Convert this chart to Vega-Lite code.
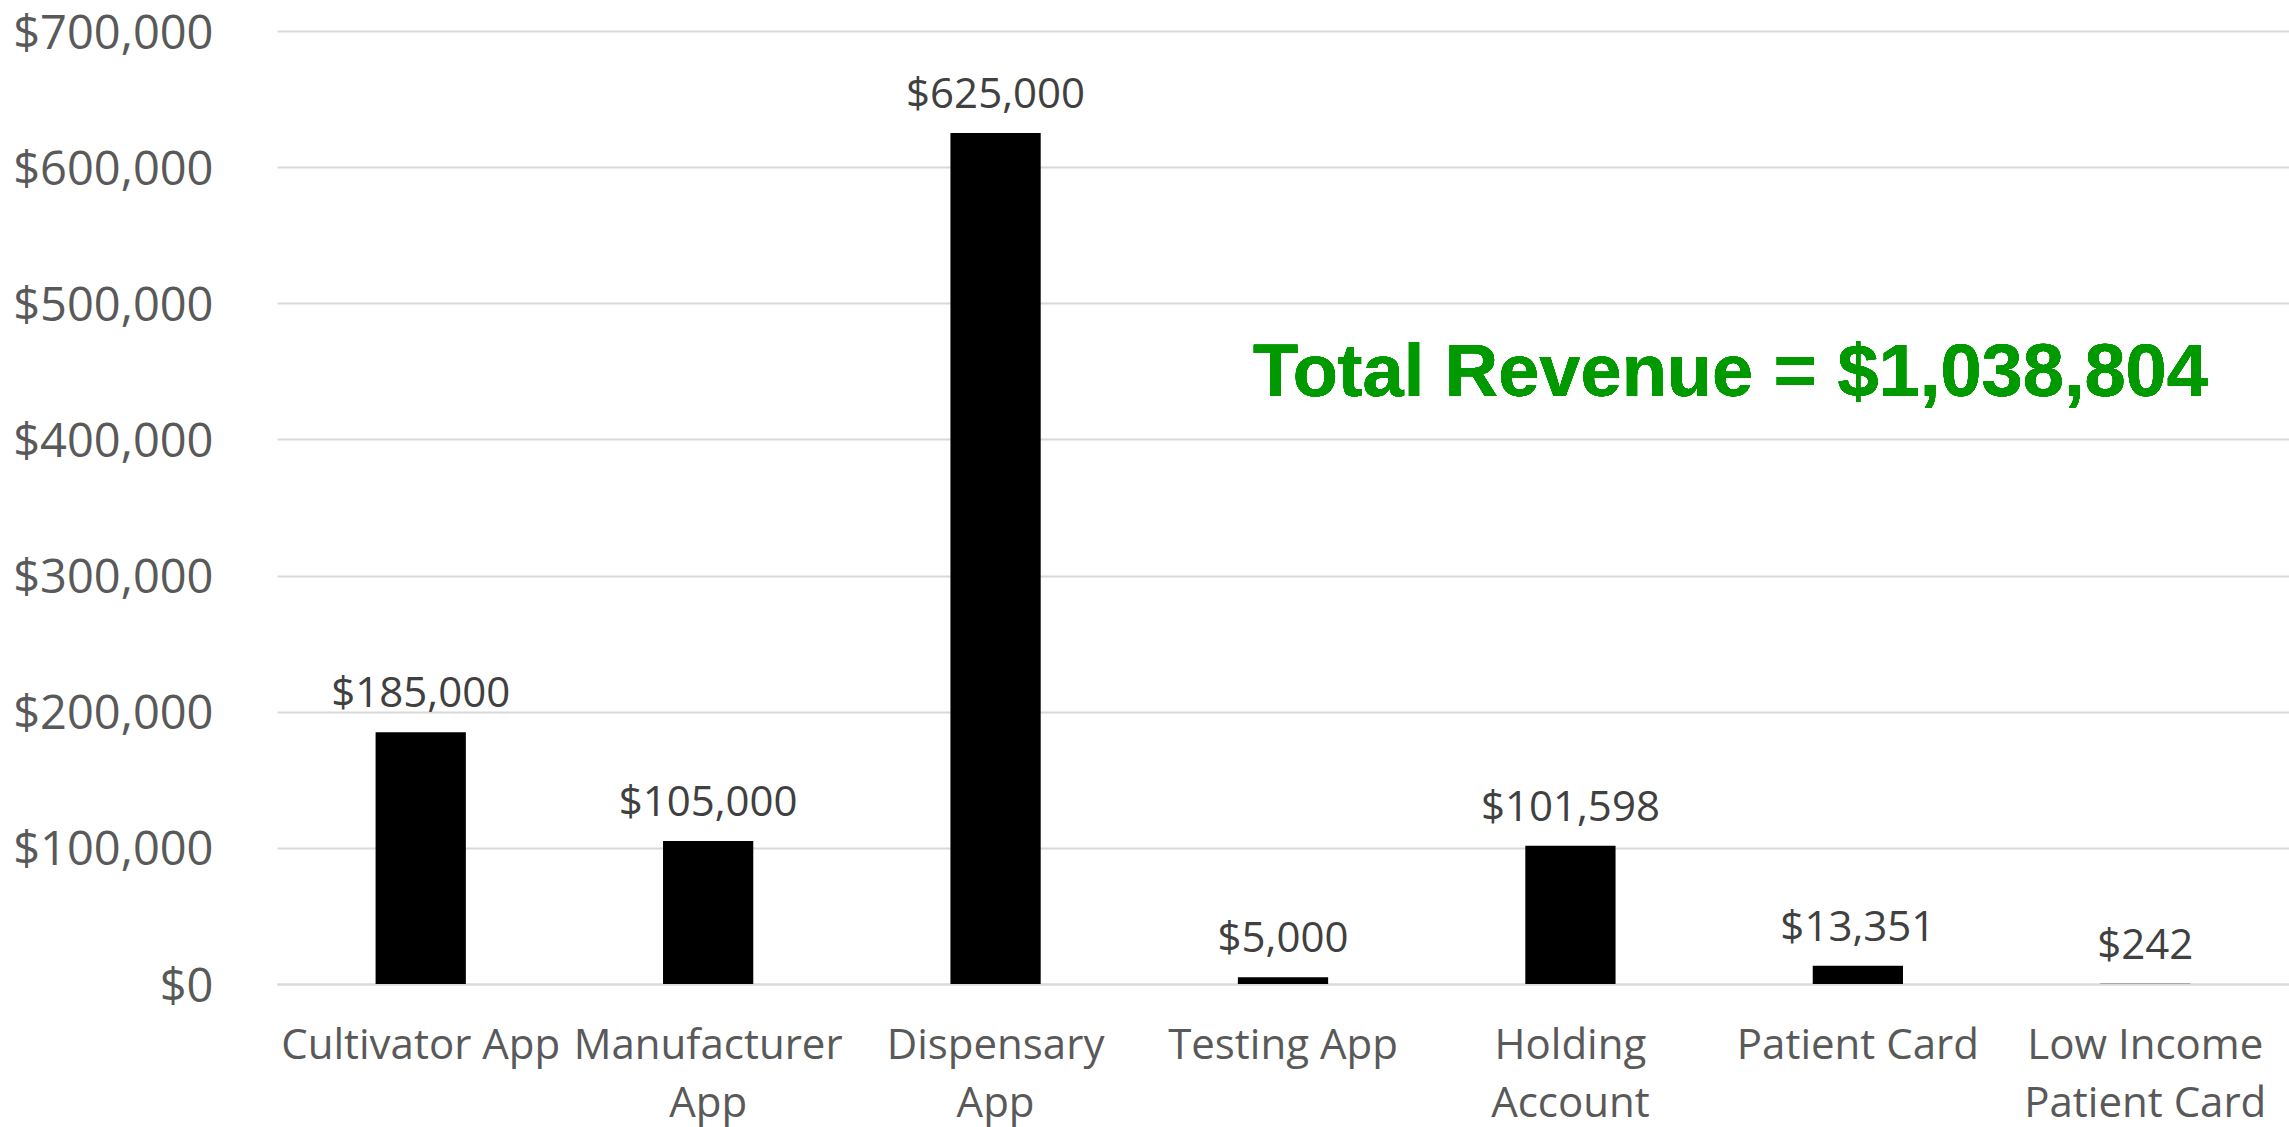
{
  "$schema": "https://vega.github.io/schema/vega-lite/v6.json",
  "autosize": {"type": "none"},
  "padding": {"left": 277, "top": 31, "right": 0, "bottom": 143},
  "width": 2012,
  "height": 953,
  "background": "white",
  "config": {"view": {"stroke": null}},
  "data": {
    "values": [
      {"category": "Cultivator App", "revenue": 185000},
      {"category": "Manufacturer App", "revenue": 105000},
      {"category": "Dispensary App", "revenue": 625000},
      {"category": "Testing App", "revenue": 5000},
      {"category": "Holding Account", "revenue": 101598},
      {"category": "Patient Card", "revenue": 13351},
      {"category": "Low Income Patient Card", "revenue": 242}
    ]
  },
  "encoding": {
    "x": {
      "field": "category",
      "type": "nominal",
      "sort": null,
      "scale": {"paddingInner": 0.686, "paddingOuter": 0.343},
      "axis": {
        "title": null,
        "ticks": false,
        "domain": true,
        "domainColor": "#d9d9d9",
        "domainWidth": 2,
        "labelAngle": 0,
        "labelFont": "Open Sans",
        "labelFontSize": 42,
        "labelColor": "#595959",
        "labelPadding": 41,
        "labelLineHeight": 58,
        "labelBaseline": "top",
        "labelLimit": 0,
        "labelOverlap": false,
        "labelExpr": "datum.value == 'Manufacturer App' ? ['Manufacturer', 'App'] : datum.value == 'Dispensary App' ? ['Dispensary', 'App'] : datum.value == 'Holding Account' ? ['Holding', 'Account'] : datum.value == 'Low Income Patient Card' ? ['Low Income', 'Patient Card'] : datum.value"
      }
    },
    "y": {
      "field": "revenue",
      "type": "quantitative",
      "scale": {"domain": [0, 700000], "nice": false},
      "axis": {
        "title": null,
        "values": [0, 100000, 200000, 300000, 400000, 500000, 600000, 700000],
        "format": "$,.0f",
        "ticks": false,
        "domain": false,
        "grid": true,
        "gridColor": "#d9d9d9",
        "gridWidth": 2,
        "labelFont": "Open Sans",
        "labelFontSize": 47,
        "labelColor": "#595959",
        "labelPadding": 64,
        "labelOffset": 3,
        "labelLimit": 0
      }
    }
  },
  "layer": [
    {"mark": {"type": "bar", "color": "#000000"}},
    {
      "mark": {
        "type": "text",
        "font": "Open Sans",
        "fontSize": 42,
        "color": "#404040",
        "baseline": "alphabetic",
        "align": "center",
        "dy": -25
      },
      "encoding": {"text": {"field": "revenue", "type": "quantitative", "format": "$,.0f"}}
    },
    {
      "mark": {
        "type": "text",
        "font": "Liberation Sans",
        "fontWeight": "bold",
        "fontSize": 74,
        "color": "#009A00",
        "baseline": "middle",
        "align": "center",
        "dx": 160
      },
      "encoding": {
        "x": {"datum": "Holding Account"},
        "y": {"datum": 448000},
        "text": {"value": "Total Revenue = $1,038,804"}
      }
    }
  ]
}
